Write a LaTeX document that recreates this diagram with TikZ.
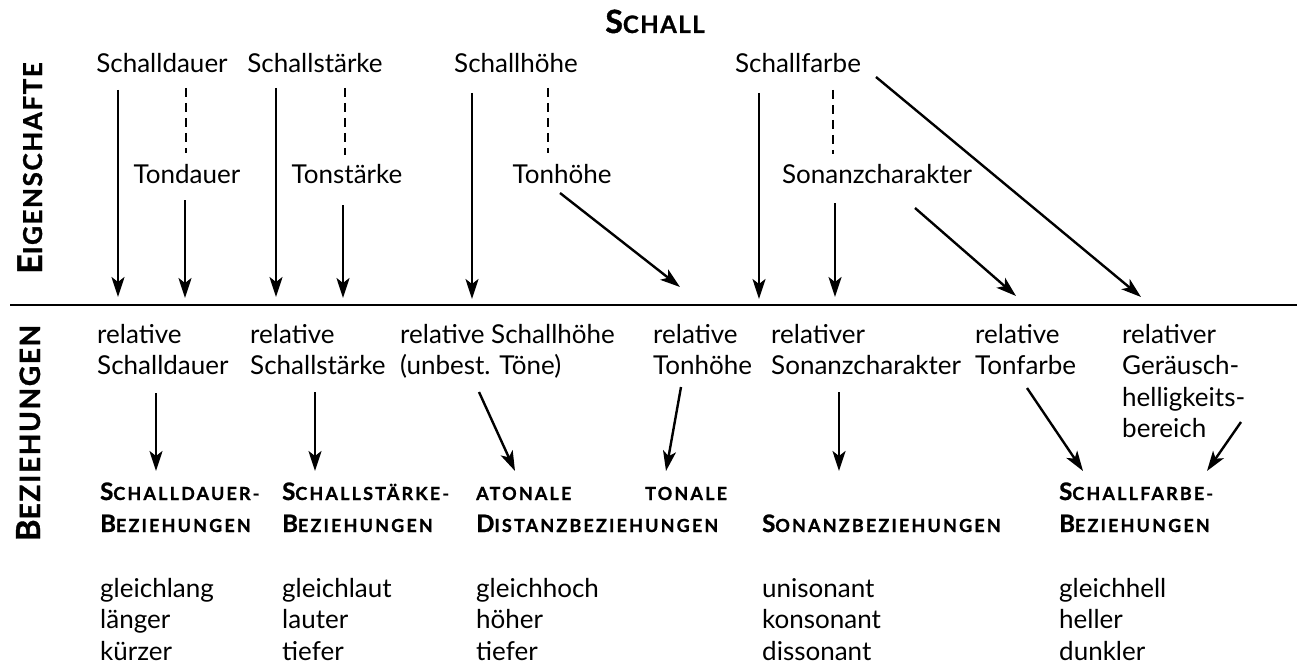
\documentclass[tikz,border=0pt]{standalone}
\usepackage{fontspec}
\setmainfont{Lato}
\newfontfamily\hdfont[LetterSpace=12,BoldFeatures={FakeBold=1.1}]{Lato}
\newfontfamily\lblfont[LetterSpace=6,BoldFeatures={FakeBold=1.1}]{Lato}
\usetikzlibrary{arrows.meta}
\newcommand\scx[4]{{\lblfont\bfseries\fontsize{#1}{#1}\selectfont #3\fontsize{#2}{#2}\selectfont #4}}
\newcommand\hd[2]{{\hdfont\bfseries\fontsize{24}{24}\selectfont #1\fontsize{18}{18}\selectfont #2}}
\newcommand\lns[1]{\begin{tabular}[t]{@{}l@{}}#1\end{tabular}}
\tikzset{
  txt/.style={inner sep=0pt, font=\fontsize{26}{31.5}\selectfont},
  arr/.style={line width=2.4pt, -{Stealth[length=20pt,width=13pt,inset=5pt]}},
  dsh/.style={line width=2.4pt, dash pattern=on 9pt off 6pt},
}
\begin{document}
\begin{tikzpicture}[x=1pt,y=-1pt]
\useasboundingbox (0,0) rectangle (1301,666);
% title and side labels
\node[txt, anchor=base] (schall) at (655,33) {\scx{32}{24}{S}{CHALL}};
\node[txt, rotate=90, anchor=base] (eig) at (42,168) {\scx{34}{26}{E}{IGENSCHAFTE}};
\node[txt, rotate=90, anchor=base] (bez) at (40,433) {\scx{33}{28}{B}{EZIEHUNGEN}};
\draw[line width=2.5pt] (10,305) coordinate (hl) -- (1297,305) coordinate (hr);
% top row
\node[txt, anchor=base] (sd) at (162,73) {Schalldauer};
\node[txt, anchor=base] (ss) at (315,73) {Schallstärke};
\node[txt, anchor=base] (sh) at (516,73) {Schallhöhe};
\node[txt, anchor=base] (sf) at (798,73) {Schallfarbe};
\node[txt, anchor=base] (td) at (187,183) {Tondauer};
\node[txt, anchor=base] (ts) at (347,183) {Tonstärke};
\node[txt, anchor=base] (th) at (562,183) {Tonhöhe};
\node[txt, anchor=base] (sc) at (877,183) {Sonanzcharakter};
% dashed links
\draw[dsh] (186,88) coordinate (d1a) -- (186,153) coordinate (d1b);
\draw[dsh] (345,88) coordinate (d2a) -- (345,155) coordinate (d2b);
\draw[dsh] (548,88) coordinate (d3a) -- (548,153) coordinate (d3b);
\draw[dsh] (833,90) coordinate (d4a) -- (833,154) coordinate (d4b);
% bottom row
\node[txt, anchor=base west] (rsd) at (97,343) {\lns{relative\\Schalldauer}};
\node[txt, anchor=base west] (rss) at (250,343) {\lns{relative\\Schallstärke}};
\node[txt, anchor=base west] (rsh) at (400,343) {\lns{relative Schallhöhe\\(unbest. Töne)}};
\node[txt, anchor=base west] (rth) at (653,343) {\lns{relative\\Tonhöhe}};
\node[txt, anchor=base west] (rsc) at (771,343) {\lns{relativer\\Sonanzcharakter}};
\node[txt, anchor=base west] (rtf) at (975,343) {\lns{relative\\Tonfarbe}};
\node[txt, anchor=base west] (rgh) at (1122,343) {\lns{relativer\\Geräusch-\\helligkeits-\\bereich}};
% headers
\node[txt, anchor=base west] (hsd) at (100,500) {\lns{\hd{S}{CHALLDAUER-}\\[0.5pt]\hd{B}{EZIEHUNGEN}}};
\node[txt, anchor=base west] (hss) at (282,500) {\lns{\hd{S}{CHALLSTÄRKE-}\\[0.5pt]\hd{B}{EZIEHUNGEN}}};
\node[txt, anchor=base west] (hat) at (476,500) {\hd{}{ATONALE}};
\node[txt, anchor=base west] (hto) at (645,500) {\hd{}{TONALE}};
\node[txt, anchor=base west] (hdi) at (476,532) {\hd{D}{ISTANZBEZIEHUNGEN}};
\node[txt, anchor=base west] (hso) at (762,532) {\hd{S}{ONANZBEZIEHUNGEN}};
\node[txt, anchor=base west] (hsf) at (1059,500) {\lns{\hd{S}{CHALLFARBE-}\\[0.5pt]\hd{B}{EZIEHUNGEN}}};
% lists
\node[txt, anchor=base west] (l1) at (100,597) {\lns{gleichlang\\länger\\kürzer}};
\node[txt, anchor=base west] (l2) at (282,597) {\lns{gleichlaut\\lauter\\tiefer}};
\node[txt, anchor=base west] (l3) at (476,597) {\lns{gleichhoch\\höher\\tiefer}};
\node[txt, anchor=base west] (l4) at (762,597) {\lns{unisonant\\konsonant\\dissonant}};
\node[txt, anchor=base west] (l5) at (1059,597) {\lns{gleichhell\\heller\\dunkler}};
% top arrows
\draw[arr] (118,90) coordinate (a1) -- (118,297) coordinate (b1);
\draw[arr] (276,88) coordinate (a2) -- (276,297) coordinate (b2);
\draw[arr] (472,93) coordinate (a3) -- (472,299) coordinate (b3);
\draw[arr] (759,93) coordinate (a4) -- (759,299) coordinate (b4);
\draw[arr] (185,200) coordinate (a5) -- (185,298) coordinate (b5);
\draw[arr] (343,205) coordinate (a6) -- (343,298) coordinate (b6);
\draw[arr] (835,203) coordinate (a7) -- (835,297) coordinate (b7);
\draw[arr] (560,193) coordinate (a8) -- (680,287) coordinate (b8);
\draw[arr] (915,208) coordinate (a9) -- (1016,296) coordinate (b9);
\draw[arr] (876,77) coordinate (a10) -- (1141,297) coordinate (b10);
% bottom arrows
\draw[arr] (156,393) coordinate (c1) -- (156,471) coordinate (e1);
\draw[arr] (315,392) coordinate (c2) -- (315,471) coordinate (e2);
\draw[arr] (479,392) coordinate (c3) -- (515,471) coordinate (e3);
\draw[arr] (681,387) coordinate (c4) -- (666,471) coordinate (e4);
\draw[arr] (839,392) coordinate (c5) -- (839,471) coordinate (e5);
\draw[arr] (1027,388) coordinate (c6) -- (1083,471) coordinate (e6);
\draw[arr] (1241,422) coordinate (c7) -- (1207,471) coordinate (e7);
\end{tikzpicture}
\end{document}
